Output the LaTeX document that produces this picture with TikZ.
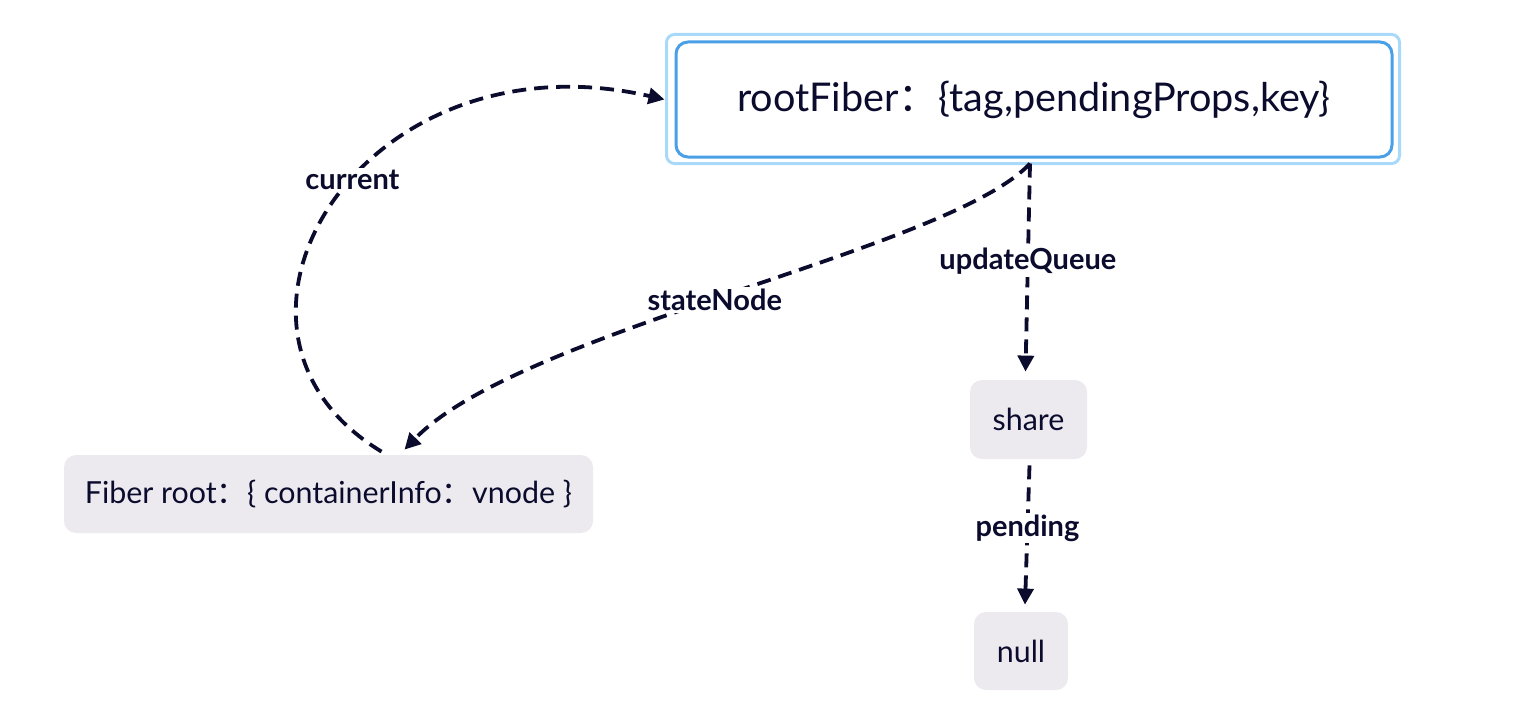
\documentclass[tikz,border=0pt]{standalone}
\usepackage{fontspec}
\setmainfont{Lato}
\newfontfamily\cjk{Noto Sans CJK SC}
\usetikzlibrary{arrows.meta,calc}
\definecolor{ink}{HTML}{0B0B2E}
\definecolor{selblue}{HTML}{4AA0E6}
\definecolor{sellight}{HTML}{A9D9F8}
\definecolor{boxgray}{HTML}{ECEAEE}
\newcommand{\fwc}{{\cjk ：}}

\begin{document}
\begin{tikzpicture}[x=0.5pt, y=-0.5pt,
  box/.style={rectangle, rounded corners=6pt, fill=boxgray, text=ink, inner sep=0pt, font=\fontsize{15.2}{17}\selectfont},
  rootbox/.style={rectangle, rounded corners=6pt, draw=selblue, line width=1.5pt, fill=white, text=ink, inner sep=0pt, minimum width=358pt, minimum height=57.5pt, font=\fontsize{19.8}{22}\selectfont},
  edge/.style={draw=ink, line width=1.9pt, dash pattern=on 7pt off 4pt, -{Triangle[length=8pt,width=8pt]}},
  elabel/.style={fill=white, text=ink, inner sep=1pt, font=\bfseries\fontsize{14.5}{16}\selectfont}
]
\useasboundingbox (0,0) rectangle (1520,722);
\node[rootbox] (root) at (1034,99.5) {rootFiber\fwc\{tag,pendingProps,key\}};
\draw[sellight, line width=1.5pt, rounded corners=4pt] ($(root.north west)+(-8,-6)$) rectangle ($(root.south east)+(6,5)$);
\node[box, minimum width=264.5pt, minimum height=39pt] (fiber) at (328.5,494) {Fiber root\fwc\{ containerInfo\fwc vnode \}};
\node[box, minimum width=58.5pt, minimum height=39.5pt] (share) at (1028.5,419.5) {share};
\node[box, minimum width=47pt, minimum height=39pt] (null) at (1021,651) {null};
% edges
\draw[edge] ($(fiber.north)+(53,-3)$) .. controls (180,330) and (360,30) .. ($(root.west)+(-10,0)$) node[elabel, pos=0.55] {current};
\draw[edge] ($(root.south)+(-4,5)$) .. controls (950,250) and (520,330) .. ($(fiber.north)+(76,-5)$) node[elabel, pos=0.52] {stateNode};
\draw[edge] ($(root.south)+(-4,5)$) -- ($(share.north)+(-3,-8)$) node[elabel, pos=0.47] {updateQueue};
\draw[edge] ($(share.south)+(1,6)$) -- ($(null.north)+(4,-7)$) node[elabel, pos=0.45] {pending};
\end{tikzpicture}
\end{document}
